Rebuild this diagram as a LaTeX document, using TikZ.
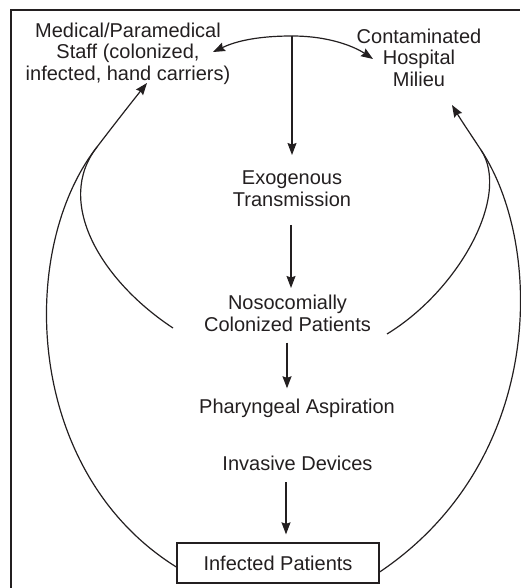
\documentclass[tikz,border=0pt]{standalone}
\usepackage{fontspec}
\setmainfont{Liberation Sans}
\usetikzlibrary{arrows.meta}
\definecolor{ink}{RGB}{35,31,32}
\begin{document}
\begin{tikzpicture}[x=1pt,y=-1pt,
  lbl/.style={inner sep=0pt,align=center,text=ink,font=\fontsize{20}{21.5}\selectfont},
  conn/.style={draw=ink,line width=1.2pt},
  arr/.style={conn,-{Stealth[length=12pt,width=9pt,inset=1.5pt]}},
  boxed/.style={lbl,draw=ink,line width=1.3pt,minimum width=202pt,minimum height=40pt}]
\useasboundingbox (0,0) rectangle (520,588);
% frame
\draw[ink,line width=1.2pt] (11,588) -- (11,10) -- (520,10);
% nodes
\node[lbl,anchor=north] (staff) at (128,22.5) {Medical/Paramedical\\Staff (colonized,\\infected, hand carriers)};
\node[lbl,anchor=north] (milieu) at (419,28.5) {Contaminated\\Hospital\\Milieu};
\node[lbl,anchor=north] (exo) at (292,171) {Exogenous\\Transmission};
\node[lbl,anchor=north] (noso) at (287.5,295) {Nosocomially\\Colonized Patients};
\node[lbl,anchor=base] (phar) at (297,413) {Pharyngeal Aspiration};
\node[lbl,anchor=base] (inv) at (297.5,470) {Invasive Devices};
\node[boxed] (inf) at (278,563) {Infected Patients};
% coordinates
\coordinate (apex) at (292,36);
\coordinate (staffTip) at (213,52);
\coordinate (milieuTip) at (373,59);
\coordinate (staffLow) at (147,83);
\coordinate (milieuLow) at (452,105);
\coordinate (mergeL) at (97,147);
\coordinate (mergeR) at (481,150);
\coordinate (nosoL) at (173,328);
\coordinate (nosoR) at (387,334);
% top arc and vertical arrow
\draw[arr] (apex) .. controls (252,36) and (232,43) .. (staffTip);
\draw[arr] (apex) .. controls (330,36) and (355,47) .. (milieuTip);
\draw[arr] (apex) -- ([yshift=16pt]exo.north);
% chain
\draw[arr] ([xshift=-1pt,yshift=-18pt]exo.south) -- ([xshift=3.5pt,yshift=7pt]noso.north);
\draw[arr] ([xshift=-0.5pt,yshift=-11pt]noso.south) -- ([xshift=-10pt,yshift=10pt]phar.north);
\draw[arr] ([xshift=-11.5pt,yshift=-12pt]inv.south) -- ([xshift=8pt,yshift=8pt]inf.north);
% big loops
\draw[arr] (inf.west |- 0,567) .. controls (24,472) and (17,249.4) .. (mergeL)
  .. controls (113,126) and (131,103) .. (staffLow);
\draw[conn] (nosoL) .. controls (101.6,281) and (53.9,202.2) .. (mergeL);
\draw[arr] (inf.east |- 0,572) .. controls (546,460) and (544,245.5) .. (mergeR)
  .. controls (470,133.4) and (461,120) .. (milieuLow);
\draw[conn] (nosoR) .. controls (459,290) and (511,195.6) .. (mergeR);
\end{tikzpicture}
\end{document}
